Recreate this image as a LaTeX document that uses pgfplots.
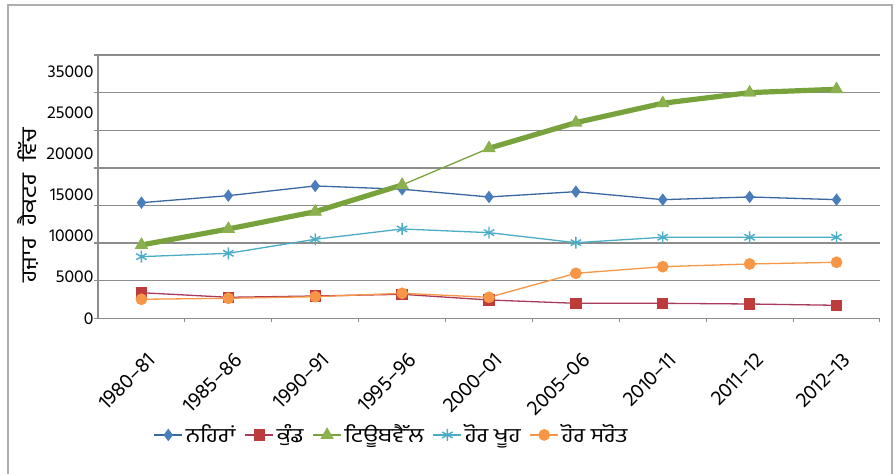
\documentclass[border=0pt]{standalone}
\usepackage{fontspec}
\setmainfont{Hind Jalandhar}[Script=Gurmukhi]
\newfontfamily\gurwide{Hind Jalandhar}[Script=Gurmukhi, FakeStretch=1.18]
\usepackage{pgfplots}
\pgfplotsset{compat=1.18}

\definecolor{cblue}{HTML}{4A7EBB}
\definecolor{cblueline}{HTML}{3A67A0}
\definecolor{cred}{HTML}{BE3B3B}
\definecolor{credline}{HTML}{A83A5A}
\definecolor{cgreen}{HTML}{8BB04E}
\definecolor{cgreenline}{HTML}{78A33C}
\definecolor{ccyan}{HTML}{4BACC6}
\definecolor{corange}{HTML}{F79646}
\definecolor{cgrid}{HTML}{8C8C8C}

\begin{document}
\begin{tikzpicture}
\useasboundingbox (0pt,0pt) rectangle (447.5pt,236.5pt);
\draw[cgrid!70,line width=0.6pt] (4pt,-2pt) -- (4pt,234pt) -- (446pt,234pt) -- (446pt,-2pt);
\begin{axis}[
	at={(49pt,77.35pt)}, anchor=south west,
	scale only axis, width=391pt, height=131.65pt,
	xmin=-0.5, xmax=8.5, ymin=0, ymax=35000,
	axis x line*=bottom, axis y line*=left,
	axis line style={cgrid, line width=0.7pt},
	tick align=outside,
	xtick={0,...,8},
	xticklabels={1980–81,1985–86,1990–91,1995–96,2000–01,2005–06,2010–11,2011–12,2012–13},
	major x tick style={draw=none},
	minor xtick={0.5,1.5,...,8.5},
	minor x tick style={cgrid, line width=0.5pt},
	xticklabel style={rotate=45, anchor=north east, xshift=-3.5pt, yshift=-7pt, font=\fontsize{10.5}{11}\selectfont},
	ytick={0,5492,10944,16396,21848,27301,32753},
	yticklabels={0,5000,10000,15000,20000,25000,35000},
	scaled y ticks=false,
	major y tick style={draw=none},
	minor ytick={0,5000,...,35000},
	minor y tick style={cgrid, line width=0.7pt},
	minor tick length=2pt,
	yminorgrids=true,
	minor grid style={cgrid, line width=0.7pt},
	yticklabel style={font=\fontsize{8.8}{10}\selectfont, xshift=5.5pt},
	/pgf/number format/assume math mode=true,
	ylabel={ਹਜ਼ਾਰ\hspace{3pt} ਹੈਕਟਰ\hspace{3pt} ਵਿੱਚ},
	ylabel style={at={(axis description cs:-0.0895,0.43)}, anchor=center, font=\gurwide\fontsize{10.5}{11}\selectfont},
	legend columns=-1,
	legend style={at={(axis description cs:0.376,-0.443)}, anchor=center, draw=none, fill=none,
		font=\gurwide\fontsize{10}{11}\selectfont,
		nodes={inner xsep=1.5pt},
		/tikz/every odd column/.append style={column sep=0pt},
		/tikz/every even column/.append style={column sep=3pt}},
	legend image code/.code={\draw[mark repeat=2,mark phase=2] plot coordinates {(0pt,0pt)(7pt,0pt)(14pt,0pt)};},
]
% ਨਹਿਰਾਂ
\addplot[cblueline, line width=0.65pt, mark=diamond*, mark size=2.6pt, mark options={fill=cblue, draw=cblue}] coordinates {
	(0,15373) (1,16303) (2,17593) (3,17154) (4,16130) (5,16835) (6,15771) (7,16130) (8,15771)
};
\addlegendentry{ਨਹਿਰਾਂ}
% ਕੁੰਡ
\addplot[credline, line width=0.65pt, mark=square*, mark size=2.5pt, mark options={fill=cred, draw=cred}] coordinates {
	(0,3404) (1,2793) (2,2966) (3,3191) (4,2434) (5,1995) (6,1995) (7,1902) (8,1729)
};
\addlegendentry{ਕੁੰਡ\hspace{8pt}}
% ਟਿਊਬਵੈੱਲ
\addplot[cgreenline, line width=0.65pt, mark=triangle*, mark size=3.2pt, mark options={fill=cgreen, draw=cgreen}] coordinates {
	(0,9747) (1,11875) (2,14176) (3,17726) (4,22606) (5,26011) (6,28590) (7,30000) (8,30450)
};
\addlegendentry{ਟਿਊਬਵੈੱਲ}
\addplot[cgreenline, line width=2.6pt, mark=triangle*, mark size=3.2pt, mark options={fill=cgreen, draw=cgreen, line width=0.5pt}, forget plot] coordinates {
	(0,9747) (1,11875) (2,14176) (3,17726)
};
\addplot[cgreenline, line width=2.6pt, mark=triangle*, mark size=3.2pt, mark options={fill=cgreen, draw=cgreen, line width=0.5pt}, forget plot] coordinates {
	(4,22606) (5,26011) (6,28590) (7,30000) (8,30450)
};
% ਹੋਰ ਖੂਹ
\addplot[ccyan, line width=0.65pt, mark=asterisk, mark size=3pt, mark options={line width=0.7pt}] coordinates {
	(0,8197) (1,8640) (2,10505) (3,11875) (4,11386) (5,10053) (6,10771) (7,10771) (8,10771)
};
\addlegendentry{ਹੋਰ ਖੂਹ\hspace{4pt}}
% ਹੋਰ ਸਰੋਤ
\addplot[corange, line width=0.65pt, mark=*, mark size=2.6pt, mark options={fill=corange, draw=corange}] coordinates {
	(0,2527) (1,2660) (2,2872) (3,3324) (4,2793) (5,5984) (6,6862) (7,7221) (8,7447)
};
\addlegendentry{ਹੋਰ ਸਰੋਤ}
\end{axis}
\end{tikzpicture}
\end{document}
